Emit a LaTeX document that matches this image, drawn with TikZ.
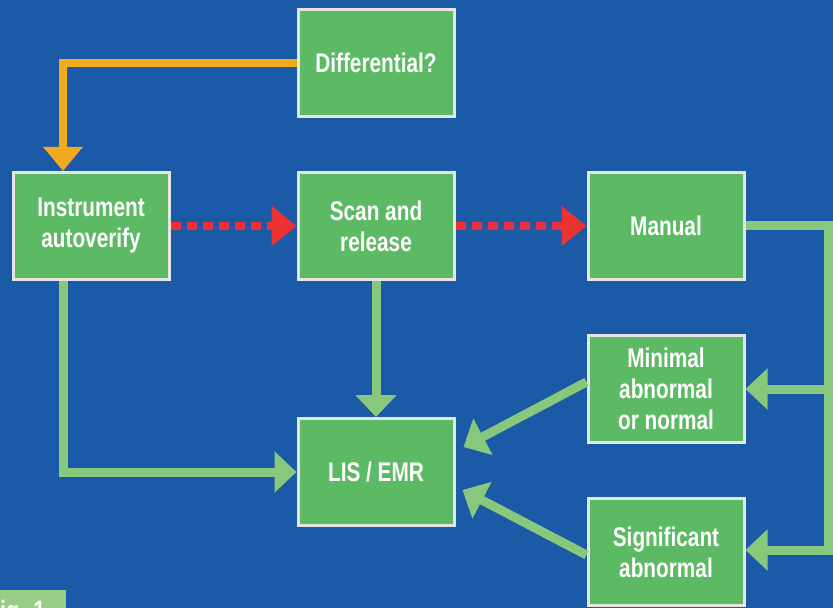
\documentclass[tikz,border=0pt]{standalone}
\usepackage{fontspec}
\setmainfont{Liberation Sans}
\newfontfamily\boxfont[FakeStretch=0.77]{Liberation Sans}
\usetikzlibrary{arrows.meta}
\definecolor{bgblue}{RGB}{27,90,166}
\definecolor{boxgreen}{RGB}{92,185,100}
\definecolor{linegreen}{RGB}{135,200,125}
\definecolor{taggreen}{RGB}{150,205,135}
\definecolor{arrorange}{RGB}{243,170,30}
\definecolor{arrred}{RGB}{236,50,50}
\tikzset{
  stepbox/.style={draw=gray!20, line width=1.5pt, fill=boxgreen,
    minimum width=78pt, minimum height=53.5pt, align=center, text=white,
    font=\boxfont\bfseries\fontsize{13.5}{15.5}\selectfont},
  flow/.style={linegreen, line width=4.5pt, -{Triangle[length=11pt,width=20pt]}},
  dotflow/.style={arrred, line width=4pt, dash pattern=on 5pt off 3pt,
    -{Triangle[length=12.5pt,width=19.5pt]}},
  backflow/.style={arrorange, line width=4pt, -{Triangle[length=12pt,width=19pt]}}
}
\begin{document}
\begin{tikzpicture}[x=0.5pt,y=-0.5pt]
    \useasboundingbox (0,0) rectangle (833,608);
    \fill[bgblue] (0,0) rectangle (833,608);
    % boxes
    \node[stepbox] (diff) at (376,63) {Differential?};
    \node[stepbox] (inst) at (91,226) {Instrument\\autoverify};
    \node[stepbox] (scan) at (376,226) {Scan and\\release};
    \node[stepbox] (manual) at (666,226) {Manual};
    \node[stepbox] (minimal) at (666,389) {Minimal\\abnormal\\or normal};
    \node[stepbox] (lis) at (376,472) {LIS / EMR};
    \node[stepbox] (sig) at (666,552) {Significant\\abnormal};
    % corners
    \coordinate (bend) at (63,63);
    \coordinate (railtop) at (828,226);
    \coordinate (railbot) at (828,550);
    % connectors
    \draw[backflow] (diff.west) -- (bend) -- (bend |- inst.north);
    \draw[dotflow] (inst.east) -- (scan.west);
    \draw[dotflow] (scan.east) -- (manual.west);
    \draw[flow] (scan.south) -- (lis.north);
    \draw[flow] (bend |- inst.south) |- (lis.west);
    \draw[flow] (manual.east) -- (railtop) -- (railbot) -- (railbot -| sig.east);
    \draw[flow] (railtop |- minimal.east) -- (minimal.east);
    \draw[flow] ([yshift=3.5pt]minimal.west) -- ([shift={(4pt,12.5pt)}]lis.east);
    \draw[flow] ([yshift=-1.5pt]sig.west) -- ([shift={(3.5pt,-9pt)}]lis.east);
    % figure tag
    \fill[taggreen] (0,590) rectangle (66,612);
    \node[anchor=base west, text=white, font=\boxfont\bfseries\fontsize{14}{15}\selectfont]
      (fig) at (-20,620) {Fig. 1};
\end{tikzpicture}
\end{document}
